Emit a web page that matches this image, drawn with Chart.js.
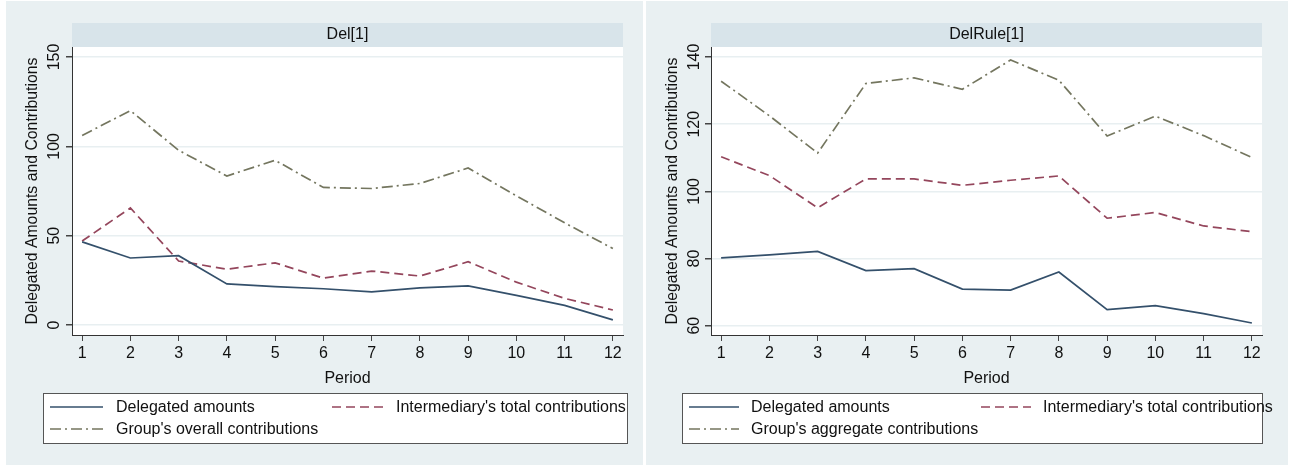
<!DOCTYPE html>
<html>
<head>
<meta charset="utf-8">
<script src="https://cdn.jsdelivr.net/npm/chart.js@4.4.1/dist/chart.umd.min.js"></script>
<style>
  html, body { margin: 0; padding: 0; background: #ffffff; width: 1295px; height: 465px; overflow: hidden; }
  .panel { position: absolute; top: 1px; height: 464px; background: #e9f0f2; }
  #pL { left: 6px; width: 637px; }
  #pR { left: 646px; width: 642px; }
  canvas { display: block; }
</style>
</head>
<body>
<div class="panel" id="pL"><canvas id="cL" width="637" height="464"></canvas></div>
<div class="panel" id="pR"><canvas id="cR" width="642" height="464"></canvas></div>
<script>
// Periods on the x axis
const periods = [1, 2, 3, 4, 5, 6, 7, 8, 9, 10, 11, 12];

// Del[1] treatment
const delDelegated    = [46.5, 37.5, 38.8, 23.0, 21.5, 20.3, 18.5, 20.8, 21.9, 16.6, 11.0, 2.9];
const delIntermediary = [47.0, 65.5, 35.8, 31.2, 34.8, 26.2, 30.2, 27.4, 35.4, 24.0, 14.9, 8.4];
const delGroup        = [106.1, 120.0, 97.8, 83.4, 92.2, 77.0, 76.4, 79.2, 87.9, 72.3, 57.2, 42.8];
const delYTicks = [0, 50, 100, 150];

// DelRule[1] treatment
const ruleDelegated    = [80.2, 81.1, 82.1, 76.4, 77.0, 70.9, 70.6, 76.0, 64.8, 66.0, 63.6, 60.8];
const ruleIntermediary = [110.3, 104.7, 95.1, 103.7, 103.7, 101.8, 103.3, 104.6, 92.0, 93.7, 89.7, 88.0];
const ruleGroup        = [132.8, 122.5, 111.4, 132.1, 133.8, 130.4, 139.1, 133.1, 116.5, 122.4, 116.6, 110.1];
const ruleYTicks = [60, 80, 100, 120, 140];

const FONT = '"Liberation Sans", Arial, sans-serif';
const TEXT = '#111111';
const STYLE = {
  delegated:    { color: '#34506b', dash: [] },
  intermediary: { color: '#94465c', dash: [9, 5] },
  group:        { color: '#74765f', dash: [11, 4, 2, 4] }
};

// Strip title, rotated y labels and the boxed legend
const panelDecor = {
  id: 'panelDecor',
  beforeDraw(chart, args, opts) {
    const { ctx, chartArea: a } = chart;
    ctx.save();
    ctx.fillStyle = '#ffffff';
    ctx.fillRect(a.left, a.top, a.right - a.left, a.bottom - a.top);
    ctx.fillStyle = '#d8e4ea';
    ctx.fillRect(a.left, a.top - 24, a.right - a.left, 24);
    ctx.fillStyle = TEXT;
    ctx.font = '16px ' + FONT;
    ctx.textAlign = 'center';
    ctx.textBaseline = 'middle';
    ctx.fillText(opts.title, (a.left + a.right) / 2, a.top - 12);
    ctx.restore();
  },
  afterDraw(chart, args, opts) {
    const { ctx } = chart;
    const y = chart.scales.y;
    ctx.save();
    ctx.fillStyle = TEXT;
    ctx.font = '16px ' + FONT;
    ctx.textAlign = 'center';
    ctx.textBaseline = 'middle';
    y.ticks.forEach(t => {
      ctx.save();
      ctx.translate(opts.yLabelX, y.getPixelForValue(t.value));
      ctx.rotate(-Math.PI / 2);
      ctx.fillText(String(t.value), 0, 0);
      ctx.restore();
    });

    const L = opts.legend;
    ctx.fillStyle = '#ffffff';
    ctx.fillRect(L.x0, L.y0, L.x1 - L.x0, L.y1 - L.y0);
    ctx.strokeStyle = '#555555';
    ctx.lineWidth = 1;
    ctx.strokeRect(L.x0 + 0.5, L.y0 + 0.5, L.x1 - L.x0, L.y1 - L.y0);
    ctx.font = '16px ' + FONT;
    ctx.textAlign = 'left';
    L.items.forEach((it, i) => {
      const ds = chart.data.datasets[i];
      ctx.strokeStyle = ds.borderColor;
      ctx.lineWidth = ds.borderWidth;
      ctx.setLineDash(ds.borderDash || []);
      ctx.beginPath();
      ctx.moveTo(it.lx0, it.y);
      ctx.lineTo(it.lx1, it.y);
      ctx.stroke();
      ctx.setLineDash([]);
      ctx.fillStyle = TEXT;
      ctx.fillText(ds.label, it.tx, it.y + 1);
    });
    ctx.restore();
  }
};

function makePanel(canvasId, cfg) {
  const mk = (label, values, st) => ({
    label: label,
    data: periods.map((p, i) => ({ x: p, y: values[i] })),
    borderColor: st.color,
    borderDash: st.dash,
    borderWidth: 1.7,
    pointRadius: 0,
    fill: false,
    tension: 0
  });
  return new Chart(document.getElementById(canvasId), {
    type: 'line',
    data: {
      datasets: [
        mk('Delegated amounts', cfg.delegated, STYLE.delegated),
        mk("Intermediary's total contributions", cfg.intermediary, STYLE.intermediary),
        mk(cfg.groupLabel, cfg.group, STYLE.group)
      ]
    },
    options: {
      responsive: false,
      animation: false,
      layout: { padding: { left: 0, top: 46, right: cfg.rightPad, bottom: 70 } },
      plugins: {
        legend: { display: false },
        tooltip: { enabled: false },
        panelDecor: { title: cfg.title, yLabelX: 49, legend: cfg.legend }
      },
      scales: {
        x: {
          type: 'linear',
          min: 0.79, max: 12.21,
          afterBuildTicks: s => { s.ticks = periods.map(v => ({ value: v })); },
          afterFit: s => { s.height = 60; },
          grid: { drawOnChartArea: false, color: 'rgba(0,0,0,0)', tickColor: '#444444', tickLength: 6 },
          border: { display: true, color: '#333333', width: 1 },
          ticks: { color: TEXT, font: { family: FONT, size: 16 }, padding: 3, maxRotation: 0, callback: v => String(v) },
          title: { display: true, text: 'Period', color: TEXT, font: { family: FONT, size: 16 }, padding: { top: 0, bottom: 7 } }
        },
        y: {
          min: cfg.yMin, max: cfg.yMax,
          afterBuildTicks: s => { s.ticks = cfg.yTicks.map(v => ({ value: v })); },
          afterFit: s => { s.width = cfg.axisWidth; },
          grid: { color: '#e8eff1', lineWidth: 1.5, tickColor: '#444444', tickLength: 6 },
          border: { display: true, color: '#333333', width: 1 },
          ticks: { display: false },
          title: { display: true, text: 'Delegated Amounts and Contributions', color: TEXT, font: { family: FONT, size: 15.8 }, padding: { top: 17, bottom: 0 } }
        }
      }
    },
    plugins: [panelDecor]
  });
}

makePanel('cL', {
  title: 'Del[1]',
  delegated: delDelegated, intermediary: delIntermediary, group: delGroup,
  groupLabel: "Group's overall contributions",
  yMin: -5.6, yMax: 155.6, yTicks: delYTicks,
  axisWidth: 66, rightPad: 20,
  legend: {
    x0: 37, y0: 392, x1: 621, y1: 442,
    items: [
      { lx0: 44, lx1: 97, tx: 110, y: 406 },
      { lx0: 326, lx1: 378, tx: 390, y: 406 },
      { lx0: 44, lx1: 97, tx: 110, y: 428 }
    ]
  }
});

makePanel('cR', {
  title: 'DelRule[1]',
  delegated: ruleDelegated, intermediary: ruleIntermediary, group: ruleGroup,
  groupLabel: "Group's aggregate contributions",
  yMin: 57.23, yMax: 142.98, yTicks: ruleYTicks,
  axisWidth: 65, rightPad: 26,
  legend: {
    x0: 36, y0: 392, x1: 616, y1: 442,
    items: [
      { lx0: 43, lx1: 93, tx: 105, y: 406 },
      { lx0: 335, lx1: 385, tx: 397, y: 406 },
      { lx0: 43, lx1: 93, tx: 105, y: 428 }
    ]
  }
});
</script>
</body>
</html>
